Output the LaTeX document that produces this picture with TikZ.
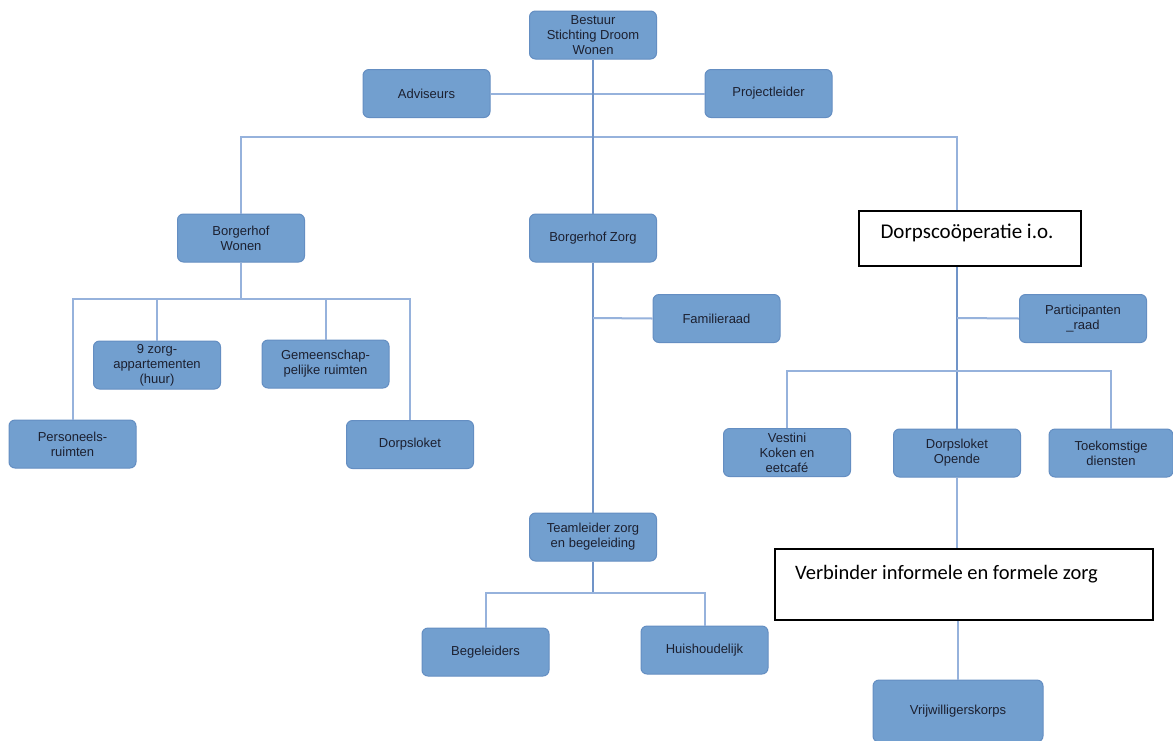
\documentclass[tikz,border=0pt]{standalone}
\usepackage{fontspec}
\newfontfamily\boxfont{Liberation Sans}
\newfontfamily\calfont{Carlito}
\definecolor{bfill}{RGB}{114,159,207}
\definecolor{bdraw}{RGB}{100,142,194}
\definecolor{connlight}{RGB}{150,178,220}
\definecolor{conndark}{RGB}{112,148,200}
\definecolor{btext}{RGB}{28,32,48}
\tikzset{
  bbox/.style={rounded corners=6pt, fill=bfill, draw=bdraw, line width=1pt,
    minimum width=127pt, minimum height=48pt, align=center, inner sep=2pt,
    font=\boxfont\fontsize{13}{15}\selectfont, text=btext},
  wbox/.style={draw=black, line width=1.6pt, fill=white, inner sep=0pt},
  link/.style={draw=connlight, line width=2pt},
  spine/.style={draw=conndark, line width=2.6pt}
}
\begin{document}
\begin{tikzpicture}[x=1pt,y=-1pt]
\useasboundingbox[fill=white] (0,0) rectangle (1173,740);

% nodes
\node[bbox] (bestuur) at (593,35) {Bestuur\\Stichting Droom\\Wonen};
\node[bbox] (adv) at (426.5,93.5) {Adviseurs};
\node[bbox] (proj) at (768.5,93.5) {Projectleider};
\node[bbox] (wonen) at (241,238) {Borgerhof\\Wonen};
\node[bbox] (zorg) at (593,238) {Borgerhof Zorg};
\node[wbox, minimum width=222pt, minimum height=55pt] (coop) at (970,238.5) {};
\node[font=\calfont\fontsize{21}{24}\selectfont, anchor=center, inner sep=0pt] (cooptext) at (967,233) {Dorpscoöperatie i.o.};
\node[bbox] (zwon) at (157,365) {9 zorg-\\appartementen\\(huur)};
\node[bbox] (gem) at (325.5,364) {Gemeenschap-\\pelijke ruimten};
\node[bbox] (pers) at (72.5,444) {Personeels-\\ruimten};
\node[bbox] (dloket) at (410,444.5) {Dorpsloket};
\node[bbox] (fam) at (716.5,318.5) {Familieraad};
\node[bbox] (team) at (593,537) {Teamleider zorg\\en begeleiding};
\node[bbox] (beg) at (485.5,652) {Begeleiders};
\node[bbox] (huis) at (704.5,650) {Huishoudelijk};
\node[bbox] (part) at (1083,318.5) {Participanten\\\_raad};
\node[bbox] (vest) at (787,452.5) {Vestini\\Koken en\\eetcafé};
\node[bbox] (opende) at (957,453) {Dorpsloket\\Opende};
\node[bbox, minimum width=124pt] (toek) at (1111,453) {Toekomstige\\diensten};
\node[wbox, minimum width=378pt, minimum height=71pt] (verb) at (964,584.5) {};
\node[font=\calfont\fontsize{20.5}{24}\selectfont, anchor=west, inner sep=0pt] (verbtext) at (795,574) {Verbinder informele en formele zorg};
\node[bbox, minimum width=170pt, minimum height=62pt] (vrij) at (958,711) {Vrijwilligerskorps};

% helper coordinates
\coordinate (h1) at (593,137);
\coordinate (h2) at (241,299);
\coordinate (h3) at (593,318);
\coordinate (h4) at (593,593);
\coordinate (h5) at (957,318);
\coordinate (h6) at (957,371);

% connectors
\draw[link] (adv.east) -- (proj.west);
\draw[link] (wonen.north) |- (h1);
\draw[link] (h1) -| (coop.north -| opende.north);
\draw[spine] (bestuur.south) -- (zorg.north);
\draw[link] (wonen.south) -- (h2);
\draw[link] (pers.north) |- (h2) -| (dloket.north);
\draw[link] (zwon.north) |- (h2);
\draw[link] (gem.north) |- (h2);
\draw[spine] (zorg.south) -- (team.north);
\draw[link] (h3) -- (fam.west);
\draw[spine] (team.south) -- (h4);
\draw[link] (beg.north) |- (h4) -| (huis.north);
\draw[spine] (coop.south -| opende.north) -- (opende.north);
\draw[link] (h5) -- (part.west);
\draw[link] (vest.north) |- (h6) -| (toek.north);
\draw[link] (opende.south) -- (verb.north -| opende.south);
\draw[link] (verb.south -| vrij.north) -- (vrij.north);
\end{tikzpicture}
\end{document}
